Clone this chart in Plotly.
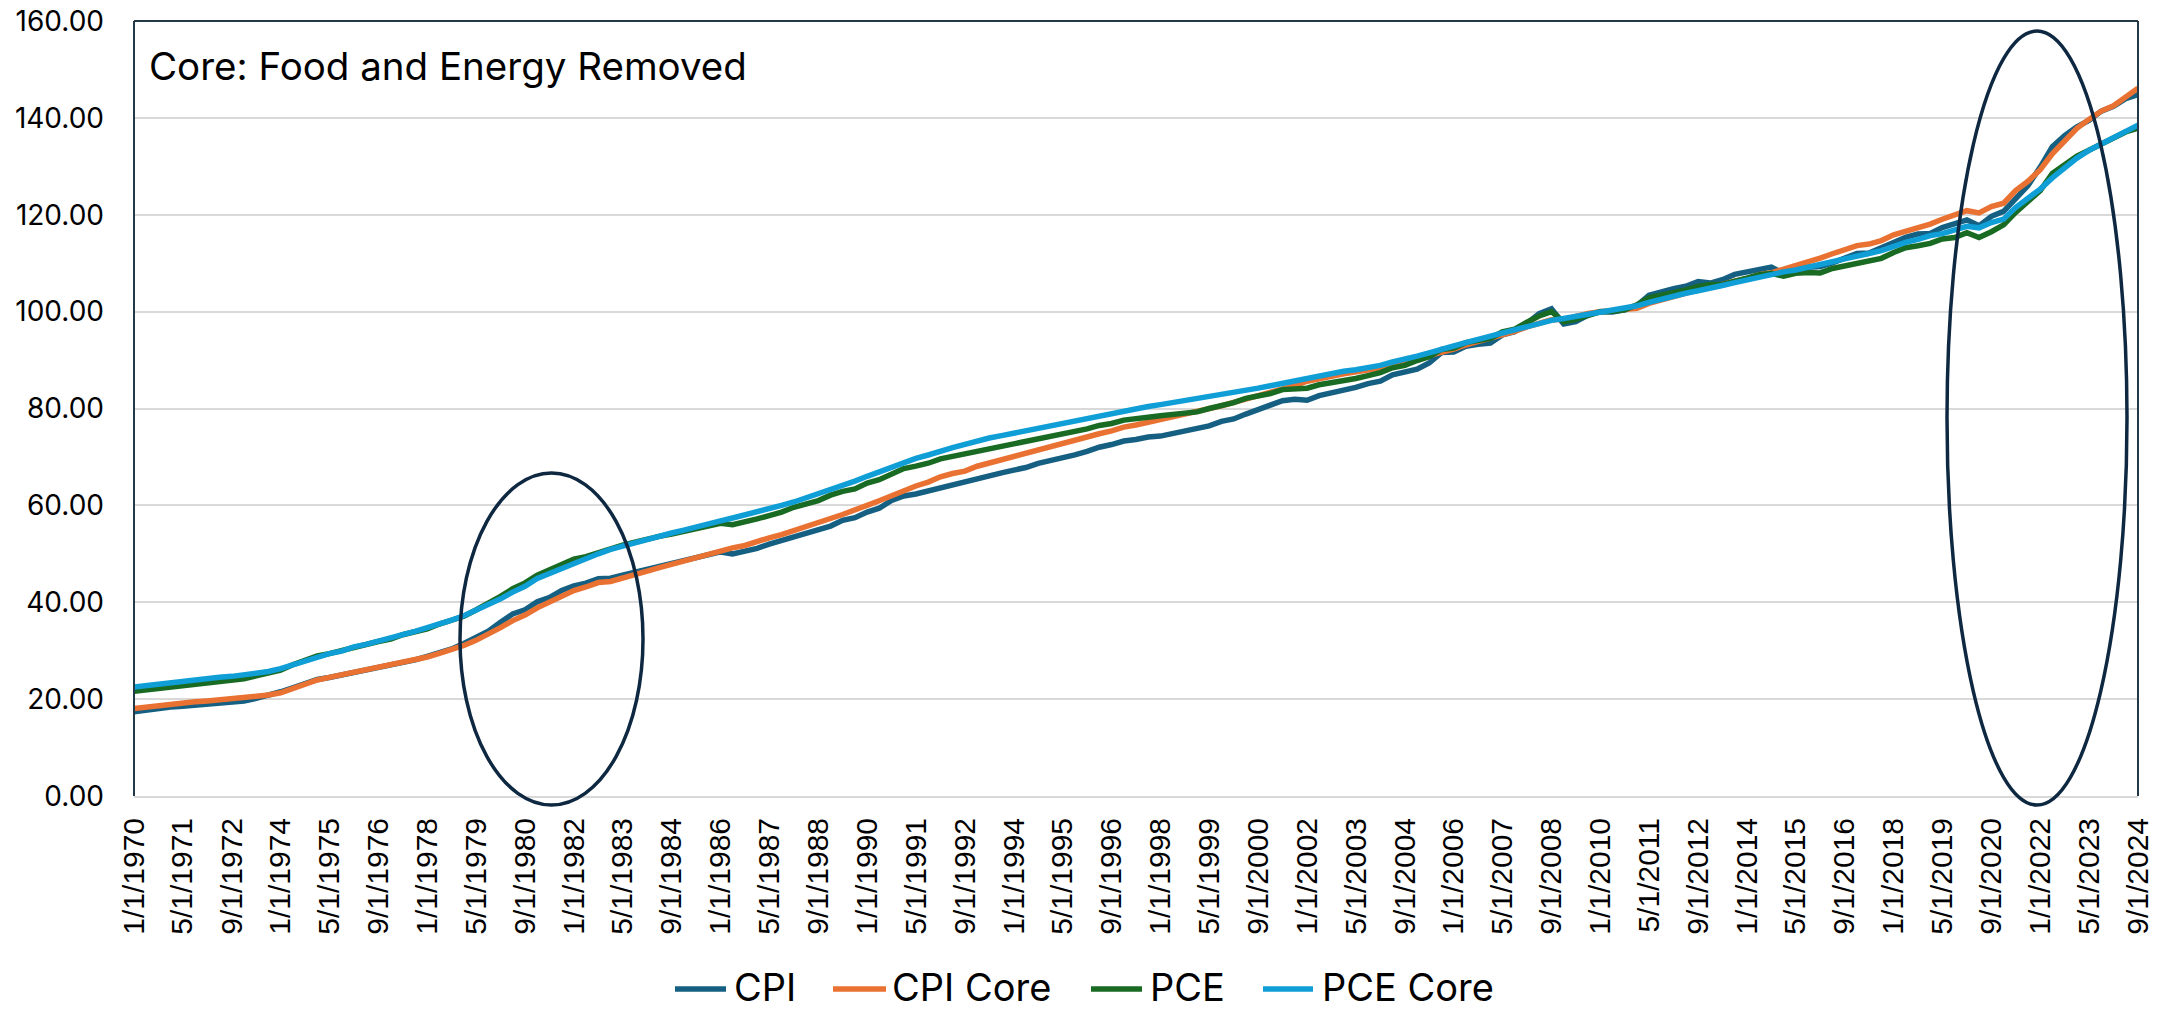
import datetime as dt
import pandas as pd
import plotly.graph_objects as go

# Monthly observations sampled every 4 months (Jan, May, Sep), 1/1970 .. 9/2024, index Jan-2010 = 100
dates = pd.date_range("1970-01-01", "2024-09-01", freq="4MS")

cpi = [
    17.38, 17.75, 18.02, 18.35, 18.53, 18.76, 18.94, 19.13, 19.31, 19.59, 20.14, 20.78,
    21.52, 22.35, 23.27, 24.05, 24.46, 24.97, 25.56, 25.93, 26.35, 26.90, 27.59, 28.09,
    28.83, 29.66, 30.35, 31.50, 32.78, 34.02, 35.86, 37.57, 38.44, 40.09, 40.97, 42.44,
    43.40, 43.96, 44.88, 44.97, 45.61, 46.21, 46.85, 47.54, 48.19, 48.51, 49.34, 49.70,
    50.39, 49.98, 50.53, 51.13, 52.00, 52.78, 53.34, 54.21, 55.08, 55.73, 56.92, 57.47,
    58.62, 59.41, 61.01, 61.93, 62.35, 62.99, 63.59, 64.23, 64.88, 65.66, 66.30, 66.72,
    67.27, 67.82, 68.69, 69.20, 69.93, 70.44, 71.13, 72.00, 72.56, 73.29, 73.61, 74.12,
    74.30, 74.85, 75.22, 75.73, 76.42, 77.34, 77.84, 78.85, 79.82, 80.74, 81.61, 81.89,
    81.70, 82.67, 83.22, 83.96, 84.37, 85.15, 85.66, 86.95, 87.45, 88.10, 89.38, 91.54,
    91.64, 92.83, 93.25, 93.52, 95.18, 95.87, 97.57, 99.59, 100.60, 97.43, 97.94, 99.27,
    100.00, 99.91, 100.37, 101.25, 103.36, 104.19, 104.74, 105.25, 106.21, 105.89, 106.58, 107.68,
    108.19, 108.97, 109.20, 107.91, 108.92, 109.15, 109.29, 110.07, 110.90, 112.01, 112.10, 113.29,
    114.44, 115.32, 116.05, 116.14, 117.34, 118.07, 118.95, 117.71, 119.68, 120.70, 123.50, 126.03,
    129.85, 134.03, 136.33, 138.17, 139.45, 141.39, 142.40, 143.96, 144.79,
]

cpi_core = [
    18.04, 18.36, 18.67, 18.99, 19.26, 19.44, 19.63, 19.85, 20.03, 20.31, 20.53, 20.85,
    21.30, 22.16, 23.12, 23.95, 24.50, 25.00, 25.55, 26.10, 26.55, 27.05, 27.65, 28.15,
    28.70, 29.45, 30.20, 31.09, 32.14, 33.31, 34.76, 36.21, 37.35, 38.84, 39.98, 41.38,
    42.42, 43.15, 44.06, 44.28, 44.92, 45.55, 46.41, 47.14, 47.86, 48.50, 49.22, 49.86,
    50.58, 51.22, 51.72, 52.58, 53.30, 53.94, 54.84, 55.66, 56.38, 57.29, 58.11, 58.92,
    60.01, 60.96, 61.96, 63.18, 64.00, 64.81, 65.90, 66.58, 67.08, 68.08, 68.76, 69.26,
    70.07, 70.62, 71.30, 72.07, 72.84, 73.34, 74.15, 74.79, 75.38, 76.15, 76.60, 77.14,
    77.82, 78.37, 78.91, 79.50, 80.04, 80.54, 81.27, 81.95, 82.54, 83.40, 84.17, 84.71,
    85.62, 86.25, 86.66, 87.16, 87.48, 87.75, 88.34, 88.93, 89.43, 90.29, 90.92, 91.47,
    92.28, 93.14, 93.78, 94.55, 95.23, 95.91, 96.86, 97.68, 98.31, 98.40, 99.03, 99.62,
    100.00, 100.21, 100.39, 100.67, 101.71, 102.43, 103.30, 104.02, 104.47, 105.02, 105.74, 106.29,
    106.83, 107.65, 108.01, 108.73, 109.59, 110.18, 111.05, 111.95, 112.68, 113.63, 113.95, 114.67,
    115.85, 116.53, 117.21, 118.07, 119.07, 119.88, 120.84, 120.38, 121.70, 122.38, 125.00, 126.90,
    129.30, 132.60, 135.40, 137.83, 139.69, 141.41, 142.50, 144.40, 146.13,
]

pce = [
    21.6, 21.9, 22.2, 22.6, 22.9, 23.1, 23.4, 23.6, 23.9, 24.2, 24.8, 25.3,
    26.0, 27.1, 28.1, 28.9, 29.4, 30.1, 30.8, 31.3, 31.9, 32.4, 33.3, 33.9,
    34.5, 35.5, 36.3, 37.1, 38.4, 39.7, 41.2, 42.8, 44.0, 45.6, 46.6, 47.8,
    48.9, 49.4, 50.3, 51.2, 51.8, 52.4, 53.1, 53.6, 54.1, 54.7, 55.2, 55.7,
    56.3, 56.0, 56.5, 57.2, 57.9, 58.6, 59.6, 60.3, 61.0, 62.1, 62.9, 63.4,
    64.6, 65.3, 66.6, 67.6, 68.1, 68.7, 69.6, 70.1, 70.6, 71.3, 71.8, 72.1,
    72.8, 73.2, 73.8, 74.3, 74.9, 75.2, 75.8, 76.5, 76.9, 77.6, 77.8, 78.2,
    78.5, 78.7, 78.9, 79.3, 80.0, 80.6, 81.2, 82.1, 82.6, 83.1, 83.9, 84.0,
    84.2, 84.9, 85.3, 85.9, 86.2, 86.8, 87.4, 88.4, 88.9, 89.9, 90.7, 92.2,
    92.5, 93.6, 94.0, 94.5, 95.8, 96.4, 97.8, 99.1, 100.0, 97.9, 98.4, 99.2,
    100.0, 100.1, 100.4, 101.4, 102.9, 103.4, 104.1, 104.5, 105.2, 105.6, 105.6, 106.4,
    106.9, 107.6, 107.9, 107.3, 107.9, 108.1, 108.0, 108.9, 109.4, 110.1, 110.3, 111.0,
    112.2, 113.2, 113.6, 114.1, 115.0, 115.3, 116.3, 115.3, 116.5, 117.9, 120.5, 122.7,
    125.0, 128.5, 130.2, 132.1, 133.3, 134.5, 135.7, 137.1, 137.9,
]

pce_core = [
    22.5, 22.8, 23.1, 23.5, 23.8, 24.0, 24.3, 24.5, 24.7, 25.0, 25.3, 25.7,
    26.3, 27.1, 27.9, 28.8, 29.4, 29.9, 30.8, 31.3, 31.9, 32.6, 33.3, 34.0,
    34.7, 35.5, 36.3, 37.2, 38.3, 39.5, 40.7, 42.1, 43.3, 44.9, 45.9, 47.1,
    48.2, 49.1, 50.0, 50.9, 51.6, 52.3, 53.1, 53.7, 54.3, 54.9, 55.6, 56.2,
    56.8, 57.4, 58.0, 58.6, 59.3, 60.0, 60.7, 61.5, 62.4, 63.4, 64.2, 65.0,
    66.0, 66.9, 67.9, 68.9, 69.7, 70.4, 71.3, 71.9, 72.6, 73.3, 73.9, 74.4,
    74.9, 75.5, 76.1, 76.6, 77.1, 77.6, 78.1, 78.6, 79.1, 79.5, 79.9, 80.4,
    80.8, 81.2, 81.5, 81.9, 82.3, 82.7, 83.1, 83.7, 84.2, 84.7, 85.2, 85.8,
    86.2, 86.7, 87.2, 87.7, 88.0, 88.4, 88.9, 89.6, 90.1, 90.8, 91.5, 92.1,
    92.9, 93.6, 94.3, 95.0, 95.6, 96.3, 97.0, 97.7, 98.2, 98.6, 99.0, 99.5,
    100.0, 100.4, 100.8, 101.2, 101.9, 102.6, 103.1, 103.8, 104.3, 105.0, 105.4, 106.0,
    106.6, 107.2, 107.7, 108.2, 108.6, 109.1, 109.6, 110.3, 110.9, 111.6, 112.0, 112.6,
    113.5, 114.3, 114.9, 115.7, 116.1, 116.8, 117.6, 117.3, 118.4, 119.1, 121.5, 123.4,
    125.3, 127.6, 129.8, 131.7, 133.3, 134.6, 136.0, 137.3, 138.5,
]

x_tick_labels = [
    "1/1/1970", "5/1/1971", "9/1/1972", "1/1/1974", "5/1/1975", "9/1/1976", "1/1/1978",
    "5/1/1979", "9/1/1980", "1/1/1982", "5/1/1983", "9/1/1984", "1/1/1986", "5/1/1987",
    "9/1/1988", "1/1/1990", "5/1/1991", "9/1/1992", "1/1/1994", "5/1/1995", "9/1/1996",
    "1/1/1998", "5/1/1999", "9/1/2000", "1/1/2002", "5/1/2003", "9/1/2004", "1/1/2006",
    "5/1/2007", "9/1/2008", "1/1/2010", "5/1/2011", "9/1/2012", "1/1/2014", "5/1/2015",
    "9/1/2016", "1/1/2018", "5/1/2019", "9/1/2020", "1/1/2022", "5/1/2023", "9/1/2024",
]
x_tick_vals = [dt.datetime.strptime(s, "%m/%d/%Y") for s in x_tick_labels]

y_tick_vals = [0, 20, 40, 60, 80, 100, 120, 140, 160]

series_names = ["CPI", "CPI Core", "PCE", "PCE Core"]
series_values = [cpi, cpi_core, pce, pce_core]
series_colors = ["#156082", "#E97132", "#196B24", "#0F9ED5"]

title_text = "Core: Food and Energy Removed"

W, H = 2164, 1011
L, R, T, B = 134, 26, 21, 215
plot_w = W - L - R
plot_h = H - T - B


def px_x(p):
    return (p - L) / plot_w


def px_y(p):
    return (H - B - p) / plot_h


fig = go.Figure()
for name, vals, color in zip(series_names, series_values, series_colors):
    fig.add_trace(go.Scatter(
        x=dates, y=vals, name=name, mode="lines",
        line=dict(color=color, width=5.5), showlegend=False,
    ))

border_color = "#22394A"
ellipse_color = "#0E2841"
line_w = 5.5

shapes = [
    dict(type="line", xref="paper", yref="paper", x0=0, x1=0, y0=0, y1=1,
         line=dict(color=border_color, width=2), layer="above"),
    dict(type="line", xref="paper", yref="paper", x0=0, x1=1, y0=1, y1=1,
         line=dict(color=border_color, width=2), layer="above"),
    dict(type="line", xref="paper", yref="paper", x0=1, x1=1, y0=0, y1=1,
         line=dict(color=border_color, width=2), layer="above"),
    dict(type="circle", xref="paper", yref="paper",
         x0=px_x(460), x1=px_x(643), y0=px_y(805), y1=px_y(473),
         line=dict(color=ellipse_color, width=3.5), fillcolor="rgba(0,0,0,0)", layer="above"),
    dict(type="circle", xref="paper", yref="paper",
         x0=px_x(1947), x1=px_x(2127), y0=px_y(805), y1=px_y(31),
         line=dict(color=ellipse_color, width=3.5), fillcolor="rgba(0,0,0,0)", layer="above"),
]

annotations = [dict(
    text=title_text, xref="paper", yref="paper",
    x=px_x(147), y=px_y(66), xanchor="left", yanchor="middle",
    showarrow=False, font=dict(family="Inter", size=38.5, color="#000000"),
)]

# Legend drawn below the plot: sample line followed by series name
legend_line_px = [(675, 726), (833, 886), (1091, 1142), (1263, 1313)]
legend_text_px = [732, 890, 1148, 1320]
legend_y_px = 989
for name, color, (lx0, lx1), tx in zip(series_names, series_colors, legend_line_px, legend_text_px):
    shapes.append(dict(
        type="line", xref="paper", yref="paper",
        x0=px_x(lx0), x1=px_x(lx1), y0=px_y(legend_y_px), y1=px_y(legend_y_px),
        line=dict(color=color, width=line_w), layer="above",
    ))
    annotations.append(dict(
        text=name, xref="paper", yref="paper",
        x=px_x(tx), y=px_y(legend_y_px - 2), xanchor="left", yanchor="middle",
        showarrow=False, font=dict(family="Inter", size=38, color="#000000"),
    ))

fig.update_layout(
    width=W, height=H,
    margin=dict(l=L, r=R, t=T, b=B, pad=0, autoexpand=False),
    paper_bgcolor="white", plot_bgcolor="white",
    showlegend=False,
    shapes=shapes,
    annotations=annotations,
)

fig.update_xaxes(
    type="date",
    range=[dates[0], dates[-1]],
    tickmode="array", tickvals=x_tick_vals, ticktext=x_tick_labels,
    tickangle=-90,
    tickfont=dict(family="Liberation Sans", size=30, color="#000000"),
    showgrid=False, zeroline=False,
    showline=True, linecolor="#D9D9D9", linewidth=2,
    ticks="", ticklabelstandoff=8, automargin=False,
)

fig.update_yaxes(
    range=[0, 160],
    tickmode="array", tickvals=y_tick_vals, tickformat=".2f",
    tickfont=dict(family="Inter", size=28, color="#000000"),
    showgrid=True, gridcolor="#D9D9D9", gridwidth=1.5,
    zeroline=False, showline=False, ticks="",
    ticklabelstandoff=29, automargin=False,
)

fig.write_html(
    "out.html",
    config={"displayModeBar": False},
    post_script="document.body.style.margin='0px';document.body.style.overflow='hidden';",
)
